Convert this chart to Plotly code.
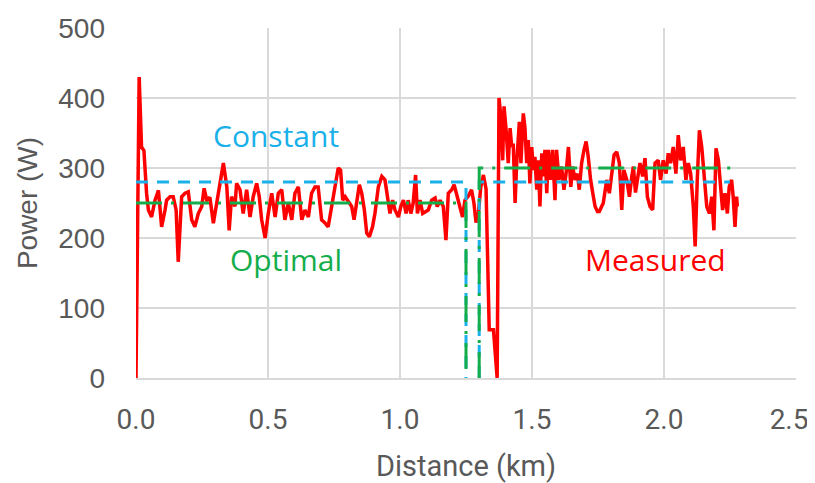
import plotly.graph_objects as go

# Measured power (W) vs distance (km)
measured_km = [0.0, 0.012, 0.021, 0.030, 0.040, 0.047, 0.059, 0.072, 0.085, 0.097, 0.110, 0.116, 0.129, 0.141, 0.152, 0.160, 0.173, 0.186, 0.198, 0.211, 0.223, 0.236, 0.249, 0.258, 0.268, 0.280, 0.293, 0.306, 0.318, 0.331, 0.344,
               0.353, 0.362, 0.375, 0.381, 0.394, 0.406, 0.419, 0.432, 0.444, 0.457, 0.467, 0.476, 0.489, 0.501, 0.514, 0.527, 0.539, 0.552, 0.564, 0.577, 0.590, 0.602, 0.615, 0.628, 0.640, 0.653, 0.665, 0.678, 0.690, 0.703, 0.715, 0.728,
               0.741, 0.754, 0.766, 0.775, 0.783, 0.792, 0.804, 0.817, 0.826, 0.836, 0.846, 0.855, 0.865, 0.874, 0.884, 0.896, 0.905, 0.918, 0.931, 0.943, 0.952, 0.962, 0.972, 0.981, 0.994, 1.003, 1.013, 1.023, 1.031, 1.041, 1.050, 1.059, 1.066, 1.076, 1.086, 1.096, 1.107, 1.120, 1.133, 1.141, 1.152, 1.164, 1.174, 1.183,
               1.196, 1.205, 1.215, 1.227, 1.237, 1.246, 1.259, 1.271, 1.280, 1.288, 1.297, 1.306, 1.316, 1.326, 1.338, 1.354, 1.368, 1.375,
               1.381, 1.389, 1.394, 1.402, 1.410, 1.417, 1.423, 1.429, 1.436, 1.442, 1.452, 1.458, 1.467, 1.473, 1.480, 1.486, 1.492, 1.499, 1.505, 1.511, 1.518, 1.524, 1.530, 1.537, 1.543, 1.549, 1.556, 1.562, 1.571, 1.578, 1.587, 1.593, 1.602, 1.612, 1.621, 1.629, 1.638, 1.647, 1.654, 1.663, 1.672, 1.679, 1.688, 1.697, 1.705, 1.713,
               1.722, 1.732, 1.739, 1.748, 1.755, 1.770, 1.783, 1.793, 1.802, 1.811, 1.821, 1.831, 1.840, 1.848, 1.859, 1.869, 1.878, 1.884, 1.892, 1.900, 1.909, 1.919, 1.928, 1.937, 1.947, 1.957, 1.966, 1.978, 1.987, 1.997, 2.008, 2.016, 2.025, 2.035, 2.045, 2.054, 2.063, 2.073, 2.083, 2.092, 2.101, 2.111, 2.118, 2.126, 2.134, 2.143, 2.152, 2.162, 2.172, 2.181, 2.189, 2.197, 2.206, 2.215, 2.222, 2.231, 2.240, 2.247, 2.256, 2.262, 2.269, 2.275, 2.278]
measured_w = [0, 430, 330, 325, 264, 240, 230, 254, 268, 216, 240, 254, 259, 259, 240, 166, 259, 264, 266, 226, 216, 235, 245, 271, 254, 258, 221, 250, 283, 307, 273,
              211, 259, 245, 278, 269, 235, 269, 230, 259, 278, 259, 226, 200, 235, 264, 230, 264, 269, 226, 250, 226, 264, 273, 226, 240, 230, 264, 273, 273, 226, 222, 216,
              245, 280, 300, 297, 254, 259, 252, 245, 226, 250, 276, 264, 240, 207, 202, 216, 235, 273, 288, 283, 259, 235, 254, 240, 230, 245, 254, 235, 254, 235, 250, 290, 235, 254, 235, 238, 240, 254, 257, 245, 254, 245, 197, 264,
              269, 276, 262, 245, 230, 254, 260, 269, 250, 222, 235, 273, 290, 270, 69, 69, 0, 400,
              378, 311, 388, 354, 307, 357, 330, 335, 250, 307, 366, 307, 378, 359, 307, 340, 278, 330, 297, 316, 269, 311, 245, 321, 288, 326, 264, 326, 283, 326, 254, 326, 283, 302, 269, 292, 330, 273, 302, 283, 292, 269, 307, 326, 338, 316,
              283, 260, 245, 238, 238, 250, 283, 264, 292, 319, 323, 307, 240, 297, 283, 259, 288, 302, 265, 283, 307, 288, 314, 259, 245, 240, 307, 311, 283, 311, 292, 321, 307, 330, 292, 347, 311, 330, 283, 307, 292, 245, 188, 283, 354, 330, 283, 245, 235, 259, 211, 328, 311, 269, 240, 264, 235, 273, 283, 259, 216, 259, 245]

# Constant-power plan
constant_km = [0.0, 1.25, 1.25, None, 1.30, 1.30, 2.25]
constant_w = [280, 280, 0, None, 0, 280, 280]

# Optimal plan
optimal_km = [0.0, 1.25, 1.25, None, 1.30, 1.30, 2.26]
optimal_w = [250, 250, 0, None, 0, 300, 300]

x_ticks = [0.0, 0.5, 1.0, 1.5, 2.0, 2.5]
# trailing no-break spaces keep the last label inside the window, as in the reference
x_tick_text = ["0.0", "0.5", "1.0", "1.5", "2.0", "2.5\u00a0\u00a0"]
y_ticks = [0, 100, 200, 300, 400, 500]

RED = "#FF0000"
BLUE = "#1AB0EA"
GREEN = "#13AD4B"

fig = go.Figure()
fig.add_trace(go.Scatter(x=measured_km, y=measured_w, mode="lines",
                         line=dict(color=RED, width=3.5), name="Measured"))
fig.add_trace(go.Scatter(x=constant_km, y=constant_w, mode="lines",
                         line=dict(color=BLUE, width=3, dash="12px,9px"), name="Constant"))
fig.add_trace(go.Scatter(x=optimal_km, y=optimal_w, mode="lines",
                         line=dict(color=GREEN, width=3, dash="26px,9px,3px,9px"), name="Optimal"))

ann_font = "Open Sans, Noto Sans, sans-serif"
fig.add_annotation(x=0.53, y=347, text="Constant", showarrow=False,
                   font=dict(family=ann_font, size=30, color=BLUE))
fig.add_annotation(x=0.568, y=169, text="Optimal", showarrow=False,
                   font=dict(family=ann_font, size=30, color=GREEN))
fig.add_annotation(x=1.966, y=169, text="Measured", showarrow=False,
                   font=dict(family=ann_font, size=30, color=RED))

# The page body adds an 8px offset, so the figure is sized 807x475
fig.update_layout(
    width=807, height=475,
    margin=dict(l=128, r=19, t=20, b=105),
    paper_bgcolor="white", plot_bgcolor="white",
    showlegend=False,
    xaxis=dict(
        range=[0, 2.5], tickvals=x_ticks, ticktext=x_tick_text,
        showgrid=True, gridcolor="#D9D9D9", gridwidth=1.5,
        zeroline=False, showline=True, linecolor="#D9D9D9", linewidth=1.5,
        automargin=False, ticklabeloverflow="allow",
        ticklabelstandoff=16,
        tickfont=dict(family="Liberation Sans Narrow, Roboto, sans-serif", size=28, color="#595959"),
        title=dict(text="Distance (km)", standoff=31,
                   font=dict(family="Liberation Sans Narrow, Roboto, sans-serif", size=29, color="#595959")),
    ),
    yaxis=dict(
        range=[0, 500], tickvals=y_ticks,
        showgrid=True, gridcolor="#D9D9D9", gridwidth=1.5,
        zeroline=False, showline=False,
        automargin=False, ticklabeloverflow="allow",
        ticklabelstandoff=30,
        tickfont=dict(family="Liberation Sans, Arial, sans-serif", size=28, color="#595959"),
        title=dict(text="Power (W)", standoff=12,
                   font=dict(family="Liberation Sans, Arial, sans-serif", size=28, color="#595959")),
    ),
)

fig.write_html("out.html")
